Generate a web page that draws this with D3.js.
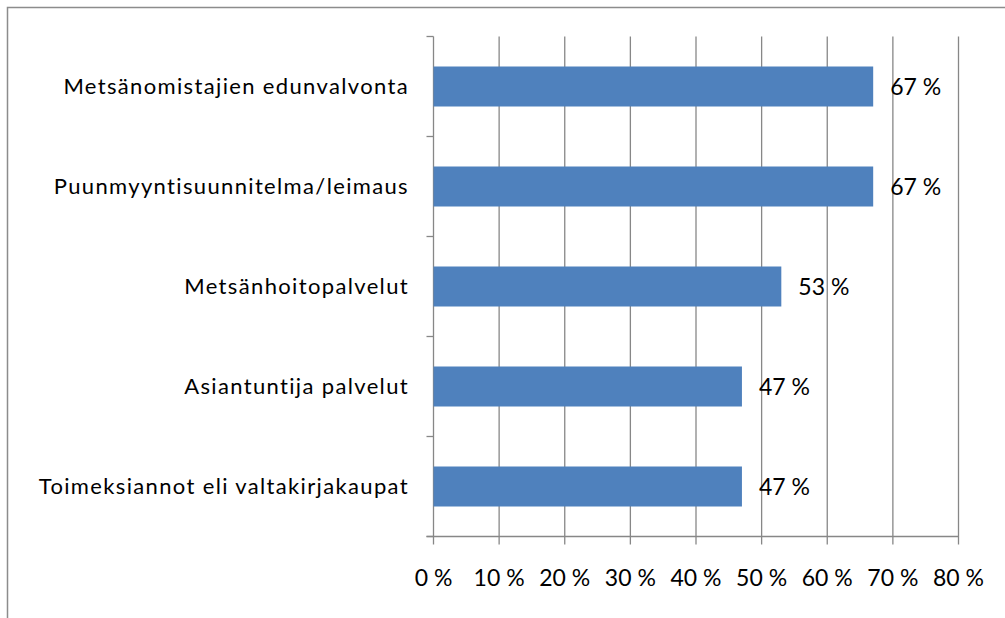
<!DOCTYPE html>
<html>
<head>
<meta charset="utf-8">
<script src="https://cdn.jsdelivr.net/npm/d3@7"></script>
<style>
  body { margin: 0; background: #fff; }
  svg { display: block; }
  text { font-family: Lato, "Noto Sans", sans-serif; fill: #000; }
</style>
</head>
<body>
<div id="chart"></div>
<script>
var categories = [
    "Metsänomistajien edunvalvonta",
    "Puunmyyntisuunnitelma/leimaus",
    "Metsänhoitopalvelut",
    "Asiantuntija palvelut",
    "Toimeksiannot eli valtakirjakaupat"
];
var values = [67, 67, 53, 47, 47];
var valueLabels = ["67 %", "67 %", "53 %", "47 %", "47 %"];
var xTicks = [0, 10, 20, 30, 40, 50, 60, 70, 80];

var width = 1005, height = 618;
var margin = {top: 36.5, left: 433.5, right: 46.5, bottom: 81.5};
var gridColor = "#878787";

var svg = d3.select("#chart").append("svg")
    .attr("width", width)
    .attr("height", height);

// outer frame (cut off at right and bottom)
svg.append("rect")
    .attr("x", 7.5).attr("y", 7.5)
    .attr("width", 1010).attr("height", 700)
    .attr("fill", "none")
    .attr("stroke", "#8c8c8c")
    .attr("stroke-width", 1.5);

var x = d3.scaleLinear()
    .domain([0, 80])
    .range([margin.left, width - margin.right]);

var y = d3.scaleBand()
    .domain(categories)
    .range([margin.top, height - margin.bottom])
    .paddingInner(0.6)
    .paddingOuter(0.3);

var bottom = height - margin.bottom;

// vertical gridlines, running down as tick marks
svg.append("g").selectAll("line")
    .data(xTicks)
    .enter().append("line")
    .attr("x1", function(d) { return x(d); })
    .attr("x2", function(d) { return x(d); })
    .attr("y1", margin.top)
    .attr("y2", bottom + 8)
    .attr("stroke", gridColor)
    .attr("stroke-width", 1.3);

// x axis line
svg.append("line")
    .attr("x1", margin.left - 7).attr("x2", x(80))
    .attr("y1", bottom).attr("y2", bottom)
    .attr("stroke", gridColor).attr("stroke-width", 1.3);

// y axis ticks between categories
var step = y.step();
var yTickPos = d3.range(categories.length + 1).map(function(i) { return margin.top + i * step; });
svg.append("g").selectAll("line")
    .data(yTickPos)
    .enter().append("line")
    .attr("x1", margin.left - 7).attr("x2", margin.left)
    .attr("y1", function(d) { return d; })
    .attr("y2", function(d) { return d; })
    .attr("stroke", gridColor).attr("stroke-width", 1.3);

// bars
svg.append("g").selectAll("rect")
    .data(values)
    .enter().append("rect")
    .attr("x", x(0))
    .attr("y", function(d, i) { return y(categories[i]); })
    .attr("width", function(d) { return x(d) - x(0); })
    .attr("height", y.bandwidth())
    .attr("fill", "#4f81bd");

// category labels
svg.append("g").selectAll("text")
    .data(categories)
    .enter().append("text")
    .attr("x", 409)
    .attr("y", function(d) { return y(d) + y.bandwidth() / 2; })
    .attr("dy", "0.35em")
    .attr("text-anchor", "end")
    .style("font-size", "22px")
    .style("letter-spacing", "1.35px")
    .text(function(d) { return d; });

// value labels
svg.append("g").selectAll("text")
    .data(values)
    .enter().append("text")
    .attr("x", function(d) { return x(d) + 17; })
    .attr("y", function(d, i) { return y(categories[i]) + y.bandwidth() / 2; })
    .attr("dy", "0.35em")
    .style("font-size", "23px")
    .text(function(d, i) { return valueLabels[i]; });

// x tick labels
svg.append("g").selectAll("text")
    .data(xTicks)
    .enter().append("text")
    .attr("x", function(d) { return x(d); })
    .attr("y", 578)
    .attr("dy", "0.35em")
    .attr("text-anchor", "middle")
    .style("font-size", "23px")
    .text(function(d) { return d + " %"; });
</script>
</body>
</html>
